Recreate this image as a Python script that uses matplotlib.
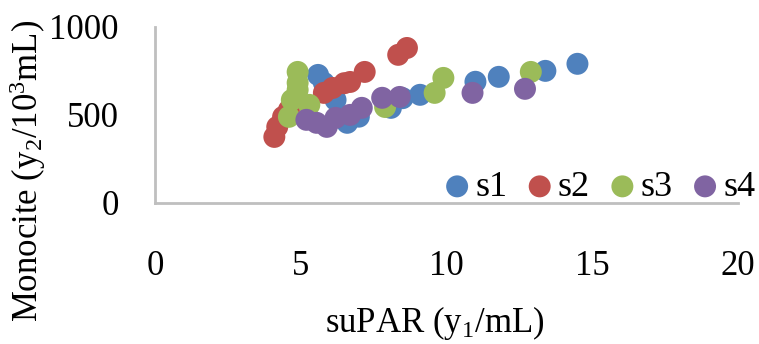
import matplotlib.pyplot as plt

plt.rcParams['font.family'] = ['Liberation Serif', 'DejaVu Serif']
plt.rcParams['mathtext.default'] = 'regular'

# series (suPAR, Monocite)
s1_x = [5.6, 5.8, 6.2, 6.6, 7.0, 8.1, 8.5, 9.1, 11.0, 11.8, 13.4, 14.5]
s1_y = [727, 682, 585, 455, 490, 540, 595, 614, 688, 716, 750, 790]
s2_x = [4.1, 4.2, 4.4, 4.6, 5.8, 6.1, 6.5, 6.7, 7.2, 8.35, 8.65]
s2_y = [375, 432, 489, 528, 625, 653, 680, 687, 744, 841, 880]
s3_x = [4.9, 4.9, 4.9, 4.7, 4.6, 5.3, 7.9, 9.6, 9.9, 12.9]
s3_y = [744, 682, 642, 585, 489, 557, 545, 625, 710, 744]
s4_x = [5.2, 5.55, 5.9, 6.2, 6.7, 7.1, 7.8, 8.4, 10.9, 12.7]
s4_y = [472, 455, 432, 483, 500, 540, 597, 602, 625, 648]

labels = ['s1', 's2', 's3', 's4']
colors = ['#4F81BD', '#C0504D', '#9BBB59', '#8064A2']
xs = [s1_x, s2_x, s3_x, s4_x]
ys = [s1_y, s2_y, s3_y, s4_y]

fig = plt.figure(figsize=(7.59, 3.44), dpi=100)
ax = fig.add_axes([0.204, 0.41, 0.768, 0.512])

for x, y, c, lab in zip(xs, ys, colors, labels):
    ax.scatter(x, y, s=250, color=c, label=lab, edgecolors='none', zorder=3)

ax.set_xlim(0, 20)
ax.set_ylim(0, 1000)
ax.set_xticks([0, 5, 10, 15, 20])
ax.set_yticks([0, 500, 1000])
ax.tick_params(length=0, labelsize=25)
ax.tick_params(axis='x', pad=34)
ax.tick_params(axis='y', pad=26)

for side in ['top', 'right']:
    ax.spines[side].set_visible(False)
for side in ['left', 'bottom']:
    ax.spines[side].set_color('#BFBFBF')
    ax.spines[side].set_linewidth(2)

ax.set_xlabel('suPAR (y$_1$/mL)', fontsize=25)
ax.xaxis.set_label_coords(0.48, -0.575)
fig.text(0.037, 0.503, 'Monocite (y$_2$/10$^3$mL)', fontsize=25, rotation=90,
         ha='center', va='center')

ax.legend(loc='lower right', bbox_to_anchor=(1.03, -0.005), ncol=4, frameon=False,
          fontsize=26, handletextpad=0.0, handlelength=1.0, columnspacing=0.4,
          borderaxespad=0, borderpad=0)

fig.savefig('out.png', dpi=100)
